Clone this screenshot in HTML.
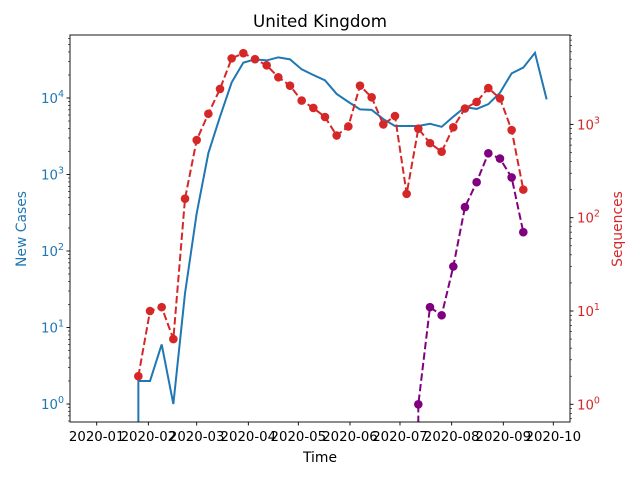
<!DOCTYPE html>
<html><head><meta charset="utf-8"><style>
html,body{margin:0;padding:0;background:#fff;width:640px;height:480px;overflow:hidden;}
svg{display:block;font-family:"DejaVu Sans","Liberation Sans",sans-serif;}
</style></head><body>
<svg id="chart" width="640" height="480" viewBox="0 0 640 480" xmlns="http://www.w3.org/2000/svg">
<defs><clipPath id="plotclip"><rect x="70" y="35" width="500" height="387"/></clipPath></defs>
<rect x="0" y="0" width="640" height="480" fill="#fff"/>
<text x="320" y="27" text-anchor="middle" font-size="16.7" fill="#000">United Kingdom</text>
<text x="320" y="462" text-anchor="middle" font-size="13.9" fill="#000">Time</text>
<text transform="translate(26,229) rotate(-90)" text-anchor="middle" font-size="13.9" fill="#1f77b4">New Cases</text>
<text transform="translate(622,229) rotate(-90)" text-anchor="middle" font-size="13.9" fill="#d62728">Sequences</text>
<g id="plot" clip-path="url(#plotclip)"></g>
<g id="axes"></g>
</svg>
<script>
const startDate = "2020-01-19";
const newCases = [0,2,2,6,1,28,310,1900,5700,16000,29000,32000,31000,34000,32000,23700,20000,17000,11300,8900,7100,7000,5300,4300,4300,4300,4600,4200,5700,7600,7200,8300,11700,21000,25000,39000,9600];
const sequences = [null,2,10,11,5,160,680,1300,2400,5100,5800,5000,4300,3200,2600,1800,1500,1200,760,950,2600,1950,1000,1230,180,900,630,510,930,1480,1740,2450,1900,870,200];
const variantSeqs = [null,null,null,null,null,null,null,null,null,null,null,null,null,null,null,null,null,null,null,null,null,null,null,null,0,1,11,9,30,130,240,490,430,270,70];
const xTickLabels = ["2020-01","2020-02","2020-03","2020-04","2020-05","2020-06","2020-07","2020-08","2020-09","2020-10"];
const leftExps = [0,1,2,3,4];
const rightExps = [0,1,2,3];

const NS = "http://www.w3.org/2000/svg";
const L=70,R=570,T=35,B=422;
const day0 = Date.UTC(2020,0,1);
function xDay(d){return 96.7 + d*1.6664;}
function xDate(s){const p=s.split("-").map(Number);return xDay((Date.UTC(p[0],p[1]-1,p[2]||1)-day0)/86400000);}
function yLeft(v){return 404 - Math.log10(v)*76.5;}
function yRight(v){return 404.3 - Math.log10(v)*93.3;}
function idxX(i){const p=startDate.split("-").map(Number);return xDay((Date.UTC(p[0],p[1]-1,p[2])-day0)/86400000 + i*7);}
function mk(tag,attrs,parent){const e=document.createElementNS(NS,tag);for(const k in attrs)e.setAttribute(k,attrs[k]);parent.appendChild(e);return e;}
const plot=document.getElementById('plot'), axes=document.getElementById('axes');

function series(vals,yf,color,dashed,markers,name){
  let d="";let started=false;
  vals.forEach((v,i)=>{
    if(v===null){started=false;return;}
    let x,y;
    if(v<=0){
      let j=i+1; while(j<vals.length&&(vals[j]===null||vals[j]<=0))j++;
      if(j>=vals.length){j=i-1; while(j>=0&&(vals[j]===null||vals[j]<=0))j--;}
      x=idxX(j>=0?j:i); y=B+1;
    } else {x=idxX(i); y=yf(v);}
    d+=(started?"L":"M")+x.toFixed(2)+","+y.toFixed(2)+" ";started=true;});
  const p=mk('path',{d:d,fill:'none',stroke:color,'stroke-width':2},plot);
  
  
  if(dashed)p.setAttribute('stroke-dasharray','7.4,3.2');
  if(markers){vals.forEach((v,i)=>{if(v===null||v<=0)return;
    const c=mk('circle',{cx:idxX(i),cy:yf(v),r:4.3,fill:color},plot);
    
    
  });}
}
series(newCases,yLeft,'#1f77b4',false,false,'new-cases');
series(sequences,yRight,'#d62728',true,true,'sequences');
series(variantSeqs,yRight,'#800080',true,true,'variant-sequences');

const fr=mk('rect',{x:L,y:T,width:R-L,height:B-T,fill:'none',stroke:'#000','stroke-width':0.9},axes);


xTickLabels.forEach(s=>{const x=xDate(s);
  mk('line',{x1:x,x2:x,y1:B,y2:B+3.5,stroke:'#000','stroke-width':0.9},axes);
  const t=mk('text',{x:x,y:B+19,'text-anchor':'middle','font-size':13.3,fill:'#000'},axes);t.textContent=s;
  
  
});
function logAxis(exps,yf,side,color,pre){
  const x=side==='l'?L:R, dir=side==='l'?-1:1;
  for(let e=exps[0]-1;e<=exps[exps.length-1]+1;e++){
    for(let m=1;m<10;m++){const y=yf(m*Math.pow(10,e));if(y<T-0.5||y>B+0.5)continue;
      const len=m===1?3.5:2;
      mk('line',{x1:x,x2:x+dir*len,y1:y,y2:y,stroke:'#000','stroke-width':m===1?0.9:0.6},axes);}
  }
  exps.forEach(e=>{const y=yf(Math.pow(10,e));
    const t=mk('text',{x:side==='l'?x-6:x+7,y:y+5,'text-anchor':side==='l'?'end':'start','font-size':13.3,fill:color},axes);
    
    
    const a=document.createElementNS(NS,'tspan');a.textContent='10';t.appendChild(a);
    const b=document.createElementNS(NS,'tspan');b.setAttribute('dy','-6');b.setAttribute('font-size','9.5');b.textContent=String(e);t.appendChild(b);
  });
}
logAxis(leftExps,yLeft,'l','#1f77b4','left-y');
logAxis(rightExps,yRight,'r','#d62728','right-y');
</script>
</body></html>
